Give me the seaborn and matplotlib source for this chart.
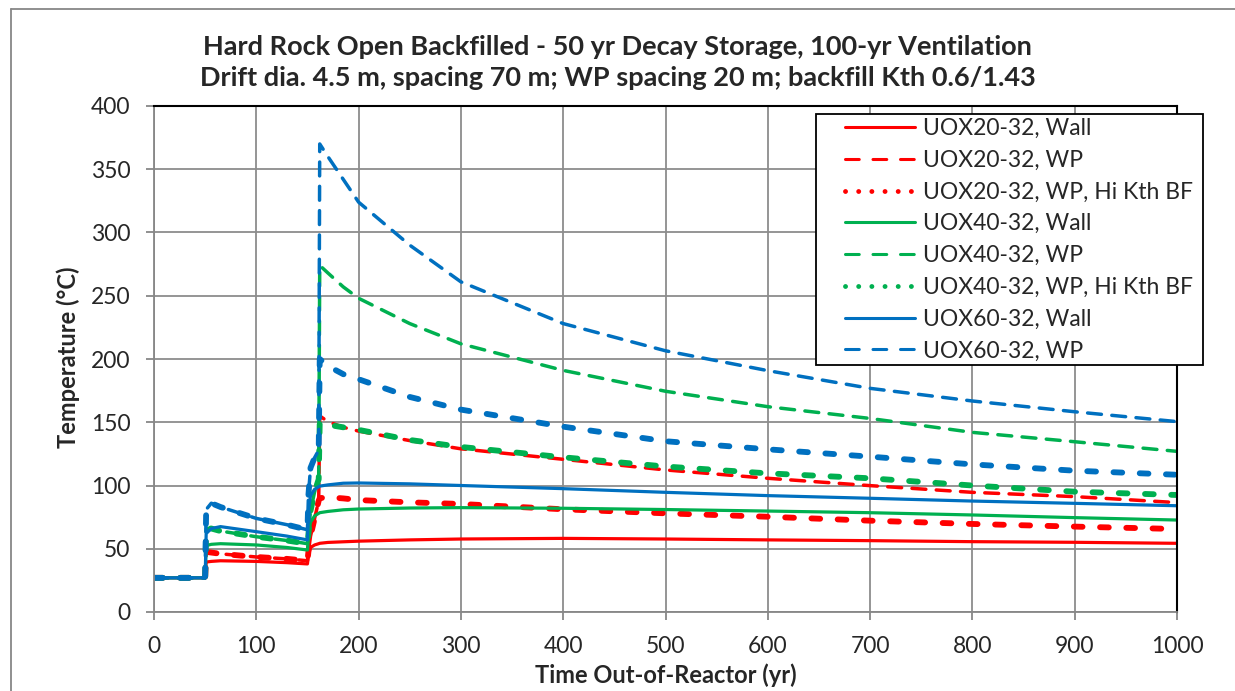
import matplotlib
matplotlib.use("Agg")
import matplotlib.pyplot as plt
from matplotlib.lines import Line2D
from matplotlib.patches import Rectangle
import seaborn as sns

# time axis (yr) and temperatures (°C)
t = [0, 50, 51, 56, 65, 100, 130, 150, 151, 153, 157, 161, 162, 170, 185, 200,
     250, 300, 400, 500, 600, 700, 800, 900, 1000]

red_wall = [27, 27, 39.5, 40, 40.5, 40, 39, 38, 45, 51, 53, 54, 54.3, 55, 55.5, 56,
            57, 57.7, 58.2, 57.7, 57, 56.4, 55.6, 55.1, 54.3]
red_wp = [27, 27, 47.5, 47, 46, 43.5, 42, 40.5, 48, 60, 74, 88, 155, 150.5, 146, 143,
          135.5, 129, 120.7, 112.3, 105.7, 99.9, 94.6, 91.2, 86.5]
red_hk = [27, 27, 47.5, 47, 46, 43.5, 42, 40.5, 48, 60, 74, 88, 90, 90.7, 89.8, 88.5,
          86.7, 85.4, 81.2, 78, 75.3, 72.2, 69.6, 67.5, 65.6]
green_wall = [27, 27, 52.5, 53.5, 54, 53, 51, 49, 60, 71, 76, 78, 78.5, 79.5, 80.8, 81.4,
              82.2, 82.5, 82, 81, 79.8, 78.5, 76.7, 74.6, 72.7]
green_wp = [27, 27, 66, 66, 64, 59.5, 56.5, 54, 62, 80, 95, 105, 274, 268, 257, 248,
            228, 212, 191, 174.5, 162.3, 153, 142, 134.6, 127]
green_hk = [27, 27, 66, 66, 64, 59.5, 56.5, 54, 62, 80, 95, 105, 150, 148, 146, 144,
            136, 130.5, 122.3, 115, 109.6, 105.7, 100, 95.1, 92.5]
blue_wall = [27, 27, 62, 66, 67.5, 63.5, 60, 57, 80, 92, 97, 99, 99.5, 100.5, 101.8, 102,
             101.3, 100, 97.5, 94.6, 92, 89.9, 87.7, 85.9, 84]
blue_wp = [27, 27, 81, 86, 83, 74, 69, 65, 93, 114, 122, 128, 370, 360, 342, 324,
           290, 261, 228, 206.5, 190.8, 176.8, 166.8, 158.3, 150.5]
blue_hk = [27, 27, 81, 86, 83, 74, 69, 65, 93, 114, 122, 128, 200, 194.5, 188, 184,
           170, 160, 146.5, 135, 128.6, 122.8, 116.7, 111.7, 108.5]

labels = ["UOX20-32, Wall", "UOX20-32, WP", "UOX20-32, WP, Hi Kth BF",
          "UOX40-32, Wall", "UOX40-32, WP", "UOX40-32, WP, Hi Kth BF",
          "UOX60-32, Wall", "UOX60-32, WP", "UOX60-32, WP, Hi Kth BF"]

RED, GREEN, BLUE = "#FF0000", "#00B050", "#0070C0"
series = [(red_wall, RED, "wall"), (red_wp, RED, "wp"), (red_hk, RED, "hk"),
          (green_wall, GREEN, "wall"), (green_wp, GREEN, "wp"), (green_hk, GREEN, "hk"),
          (blue_wall, BLUE, "wall"), (blue_wp, BLUE, "wp"), (blue_hk, BLUE, "hk")]

styles = {
    "wall": dict(lw=2.3, linestyle="-"),
    "wp": dict(lw=2.5, linestyle=(0, (4, 3))),
    "hk": dict(lw=4.2, linestyle=(0, (1.5, 3))),
}
legend_styles = {
    "wall": dict(lw=2.2, linestyle="-"),
    "wp": dict(lw=2.2, linestyle=(0, (4.5, 4.5))),
    "hk": dict(lw=3.5, linestyle=(0, (0.01, 2.7))),
}

sns.set_style("white")
plt.rcParams["font.family"] = ["Lato", "DejaVu Sans"]

W, H = 1235, 691
fig = plt.figure(figsize=(W / 100, H / 100), dpi=100)
ax = fig.add_axes([154 / W, 1 - 612 / H, (1177 - 154) / W, (612 - 106) / H])

for vals, col, kind in series:
    sns.lineplot(x=t, y=vals, ax=ax, color=col, estimator=None, sort=False,
                 dash_capstyle="round", solid_capstyle="round", **styles[kind])

ax.set_xlim(0, 1000)
ax.set_ylim(0, 400)
ax.set_xticks(range(0, 1001, 100))
ax.set_yticks(range(0, 401, 50))
ax.grid(True, color="#8c8c8c", lw=1.3)
ax.set_axisbelow(True)
ax.tick_params(direction="out", length=6, width=1.3, color="#878787",
               pad=11, labelsize=16.5, bottom=True, left=True)
for side in ["left", "bottom"]:
    ax.spines[side].set_color("#878787")
    ax.spines[side].set_linewidth(1.3)
for side in ["top", "right"]:
    ax.spines[side].set_color("black")
    ax.spines[side].set_linewidth(1.5)
ax.set_xlabel("")
ax.set_ylabel("")

# titles and axis labels
fig.text(0.5, 1 - 47 / H, "Hard Rock Open Backfilled - 50 yr Decay Storage, 100-yr Ventilation",
         ha="center", va="center", fontsize=19.5, fontweight="bold")
fig.text(0.5, 1 - 78 / H, "Drift dia. 4.5 m, spacing 70 m; WP spacing 20 m; backfill Kth 0.6/1.43",
         ha="center", va="center", fontsize=19.5, fontweight="bold")
fig.text(665.5 / W, 1 - 675 / H, "Time Out-of-Reactor (yr)", ha="center", va="center",
         fontsize=17, fontweight="bold")
fig.text(68 / W, 1 - 357 / H, "Temperature (°C)", ha="center", va="center",
         rotation=90, fontsize=17, fontweight="bold")

# legend (first eight series only, as in the original)
handles = [Line2D([], [], color=col, dash_capstyle="round", **legend_styles[kind])
           for _, col, kind in series[:8]]
box = Rectangle((816 / W, 1 - 365 / H), (1203 - 816) / W, (365 - 114) / H,
                transform=fig.transFigure, facecolor="white", edgecolor="black",
                lw=1.3, zorder=5, clip_on=False)
ax.add_patch(box)
leg = ax.legend(handles=handles, labels=labels[:8], loc="upper left",
                bbox_to_anchor=(845 / W, 1 - 118 / H), bbox_transform=fig.transFigure,
                frameon=False, fontsize=16.5, handlelength=3.05, handletextpad=0.35,
                labelspacing=0.47, borderpad=0, borderaxespad=0)
leg.set_zorder(6)

# outer chart border
fig.add_artist(Line2D([11 / W, 11 / W], [0, 1 - 9 / H], transform=fig.transFigure,
                      color="#878787", lw=1.3))
fig.add_artist(Line2D([11 / W, 1], [1 - 9 / H, 1 - 9 / H], transform=fig.transFigure,
                      color="#878787", lw=1.3))

fig.savefig("out.png", dpi=100)
